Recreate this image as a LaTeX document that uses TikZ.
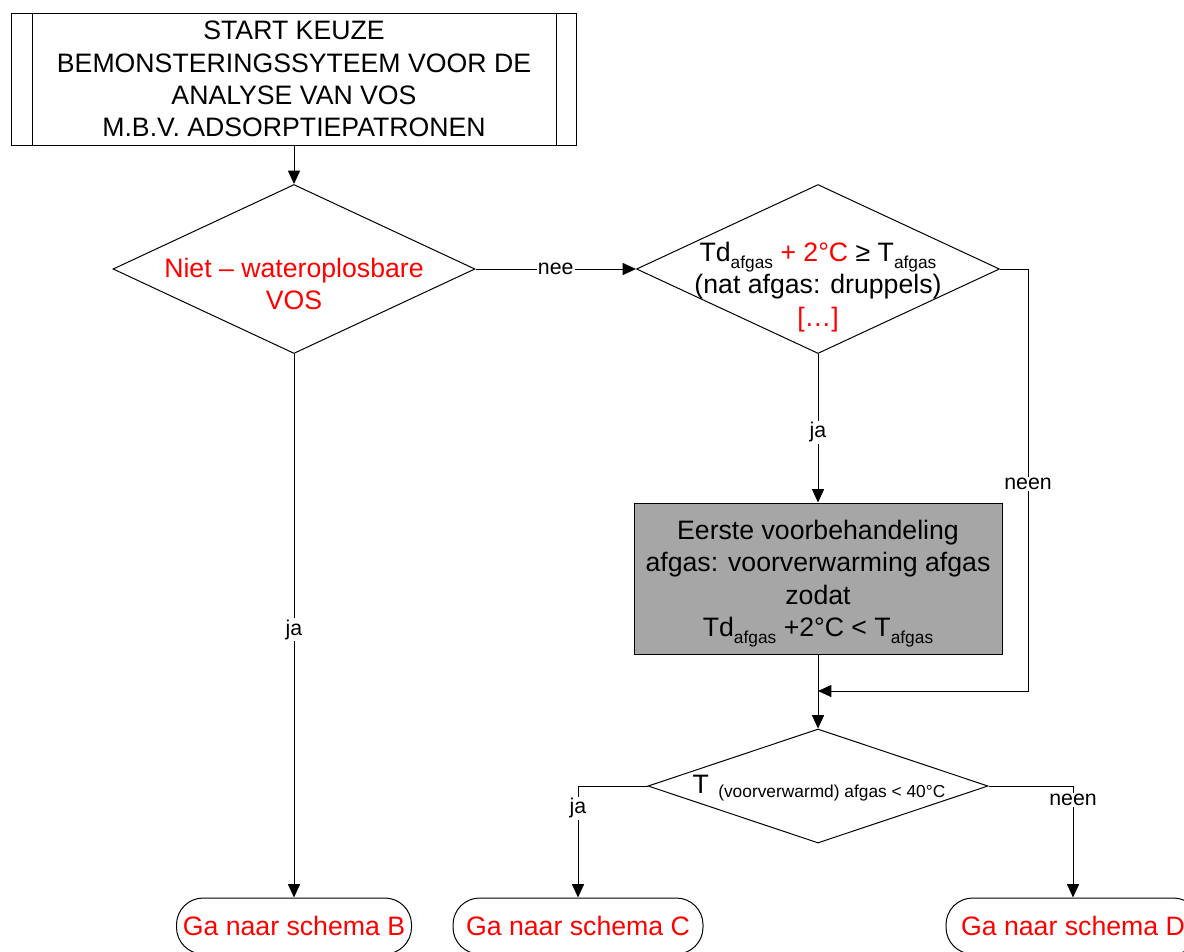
\documentclass[tikz,border=0pt]{standalone}
\usepackage{fontspec}
\setmainfont{Liberation Sans}
\usetikzlibrary{arrows.meta,shapes.geometric}
\newcommand{\subtxt}[1]{\raisebox{-0.25em}{\fontsize{13pt}{13pt}\selectfont #1}}
\begin{document}
\begin{tikzpicture}[x=0.75pt,y=-0.75pt,
 line width=0.75pt,
 arr/.style={-{Triangle[length=10pt,width=9pt]}},
 main/.style={font=\fontsize{20pt}{24.2pt}\selectfont, align=center},
 lbl/.style={fill=white, inner sep=1pt, font=\fontsize{16pt}{18pt}\selectfont},
 dia/.style={draw, diamond, inner sep=0pt},
 term/.style={draw, rectangle, rounded corners=20pt, minimum height=42pt, inner sep=0pt, text=red, font=\fontsize{20pt}{24pt}\selectfont},
 boxst/.style={draw, main, inner sep=0pt},
]
\useasboundingbox (0,0) rectangle (1184,951);
\clip (0,0) rectangle (1184,951);

\node[boxst, minimum width=423.75pt, minimum height=99pt] (start) at (294,79) {START KEUZE\\BEMONSTERINGSSYTEEM VOOR DE\\ANALYSE VAN VOS\\M.B.V. ADSORPTIEPATRONEN};
\draw ([xshift=15.75pt]start.north west) -- ([xshift=15.75pt]start.south west);
\draw ([xshift=-15.75pt]start.north east) -- ([xshift=-15.75pt]start.south east);

\node[dia, minimum width=271.5pt, minimum height=126.75pt] (d1) at (294,269) {};
\node[main, text=red] (t1) at (294,284) {Niet – wateroplosbare\\VOS};

\node[dia, minimum width=272.25pt, minimum height=126.75pt] (d2) at (818,269) {};
\node[main] (t2) at (818,287) {Td\subtxt{afgas} \textcolor{red}{+ 2°C} ≥ T\subtxt{afgas}\\(nat afgas: druppels)\\\textcolor{red}{[…]}};

\node[draw, fill=gray!70, minimum width=276pt, minimum height=113.25pt, inner sep=0pt] (g) at (818,578.5) {};
\node[main] (gt) at (818,583.5) {Eerste voorbehandeling\\afgas: voorverwarming afgas\\zodat\\Td\subtxt{afgas} +2°C < T\subtxt{afgas}};

\node[dia, minimum width=255pt, minimum height=85.5pt] (d3) at (818,786) {};
\node[inner sep=0pt] (t3) at (819,788) {\fontsize{20pt}{24pt}\selectfont T\hspace{7pt}\raisebox{-3pt}{\fontsize{13pt}{15pt}\selectfont (voorverwarmd) afgas < 40°C}};

\node[term, minimum width=176.25pt] (tB) at (294,926) {Ga naar schema B};
\node[term, minimum width=187.5pt] (tC) at (578,926) {Ga naar schema C};
\node[term, minimum width=190.5pt] (tD) at (1073,926) {Ga naar schema D};

\coordinate (m) at (818,691);

\draw[arr] (start.south) -- (d1.north);
\draw[arr] (d1.east) -- node[lbl]{nee} (d2.west);
\draw[arr] (d1.south) -- node[lbl,yshift=-3pt]{ja} (tB.north);
\draw[arr] (d2.south) -- node[lbl,yshift=-3pt]{ja} (g.north);
\draw[arr] (d2.east) -- ++(28,0) |- node[lbl,pos=0.25,yshift=-3pt]{neen} (m);
\draw[arr] (g.south) -- (d3.north);
\draw[arr] (d3.west) -| node[lbl,pos=0.6]{ja} (tC.north);
\draw[arr] (d3.east) -| node[lbl,pos=0.563]{neen} (tD.north);
\end{tikzpicture}
\end{document}
